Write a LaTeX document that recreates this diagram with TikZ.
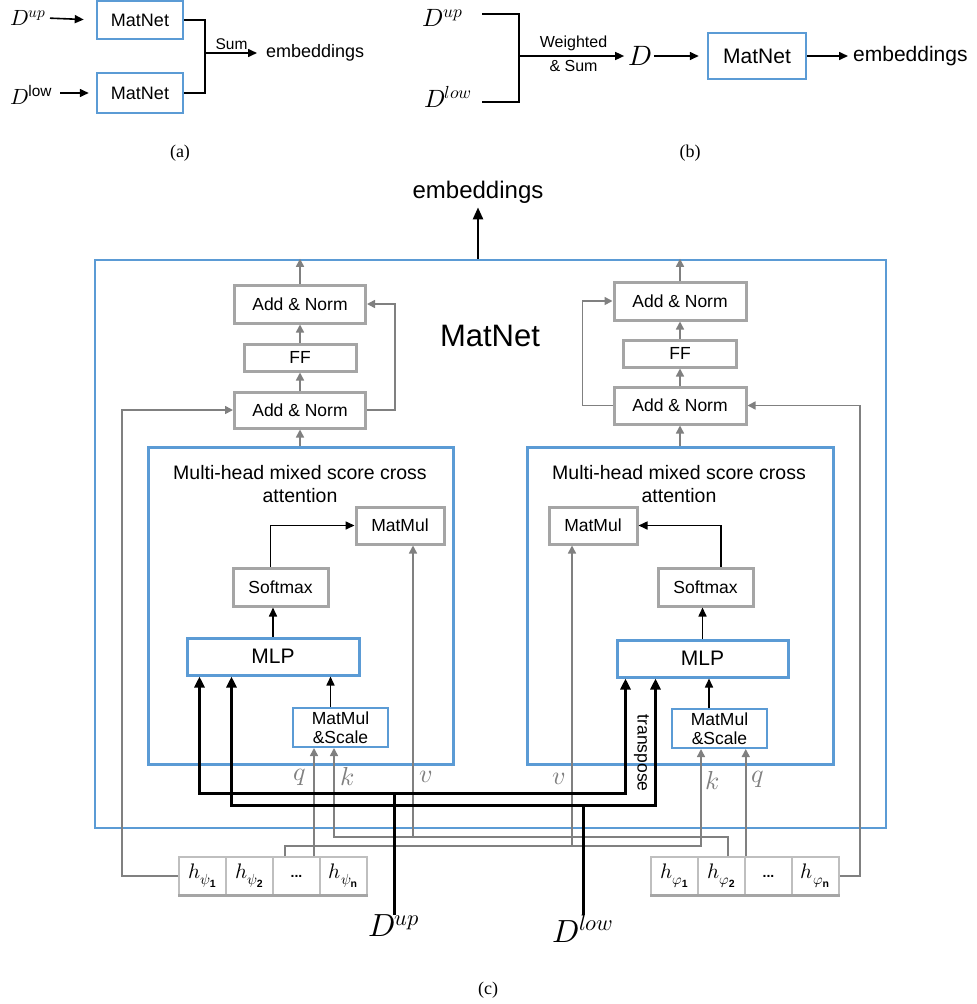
\documentclass[tikz,border=0pt]{standalone}
\usepackage{unicode-math}
\setmainfont{Liberation Sans}
\newfontfamily\capfont{Liberation Serif}
\usetikzlibrary{arrows.meta}

\definecolor{netblue}{HTML}{5B9BD5}
\definecolor{boxgray}{HTML}{A5A5A5}
\definecolor{linegray}{HTML}{808080}
\definecolor{cellgray}{HTML}{BFBFBF}

\begin{document}
\begin{tikzpicture}[x=1pt, y=-1pt,
    every node/.style={font=\fontsize{17.5}{20}\selectfont, inner sep=0pt},
    netbox/.style={draw=netblue, line width=2.5pt, fill=white},
    attbox/.style={draw=netblue, line width=3pt},
    graybox/.style={draw=boxgray, line width=3pt, fill=white},
    tokcell/.style={draw=cellgray, line width=1.5pt, minimum width=47, minimum height=38, font=\fontsize{21}{23}\selectfont},
    garrow/.style={draw=linegray, line width=1.6pt, -{Triangle[length=8pt,width=8pt]}},
    barrow/.style={line width=1.6pt, -{Triangle[length=9pt,width=8pt]}},
    dline/.style={line width=3pt},
    darrow/.style={line width=3pt, {Triangle[length=11pt,width=10pt]}-{Triangle[length=11pt,width=10pt]}},
    qkv/.style={text=linegray, font=\fontsize{26}{28}\selectfont},
    sublabel/.style={font=\capfont\fontsize{18}{20}\selectfont}
  ]
  \useasboundingbox (0,0) rectangle (977,1004);

  % (a) two MatNets, summed
  \node[netbox, minimum width=86, minimum height=38, font=\fontsize{18}{20}\selectfont] (aTop) at (140,20) {MatNet};
  \node[netbox, minimum width=86, minimum height=40, font=\fontsize{18}{20}\selectfont] (aBot) at (140,93) {MatNet};
  \node[font=\fontsize{22}{24}\selectfont] (aDup) at (28,18) {$D^{up}$};
  \node[font=\fontsize{22}{24}\selectfont] (aDlow) at (31,95) {$D^{\mathrm{low}}$};
  \coordinate (aJ) at (205,53);
  \node[anchor=west, font=\fontsize{18}{20}\selectfont] (aEmb) at (266,53) {embeddings};
  \draw[barrow, shorten <=4pt, shorten >=12pt] (aDup.east) -- (aTop.west);
  \draw[barrow, shorten <=8pt, shorten >=7pt] (aDlow.east |- aBot.west) -- (aBot.west);
  \draw[line width=1.6pt] (aTop.east) -| (aJ) |- (aBot.east);
  \draw[barrow, shorten >=9pt] (aJ) -- node[above=3pt, xshift=-4pt, font=\fontsize{15.5}{17}\selectfont]{Sum} (aEmb.west);
  \node[sublabel] (capA) at (180,153) {(a)};

  % (b) weighted sum, one MatNet
  \node[font=\fontsize{25}{27}\selectfont] (bDup) at (443,18) {$D^{up}$};
  \node[font=\fontsize{25}{27}\selectfont] (bDlow) at (448,97) {$D^{low}$};
  \coordinate (bUp) at (482,14);
  \coordinate (bLow) at (482,102);
  \coordinate (bJ) at (519,56);
  \node[font=\fontsize{28}{30}\selectfont] (bD) at (640,56) {$D$};
  \node[netbox, minimum width=98, minimum height=46, font=\fontsize{21}{24}\selectfont] (bNet) at (757,56) {MatNet};
  \node[anchor=west, font=\fontsize{21}{24}\selectfont] (bEmb) at (853,56) {embeddings};
  \draw[line width=1.8pt] (bUp) -| (bJ) |- (bLow);
  \draw[barrow, shorten >=4pt] (bJ) -- node[above=4pt, font=\fontsize{16}{18}\selectfont]{Weighted}
    node[below=4pt, font=\fontsize{16}{18}\selectfont]{\& Sum} (bD);
  \draw[barrow, shorten <=2pt, shorten >=8pt] (bD.east) -- (bNet.west);
  \draw[barrow, shorten >=5pt] (bNet.east) -- (bEmb.west);
  \node[sublabel] (capB) at (690,153) {(b)};

  % (c) inside MatNet
  \node[netbox, minimum width=791, minimum height=568, fill=none] (matnet) at (490.5,544) {};
  \node[font=\fontsize{31}{34}\selectfont] (title) at (490,336) {MatNet};
  \node[font=\fontsize{24}{26}\selectfont] (cEmb) at (478,192) {embeddings};
  \draw[line width=2.5pt, -{Triangle[length=12pt,width=10pt]}, shorten >=4pt] (cEmb.south |- matnet.north) -- (cEmb.south);

  % left encoder
  \node[graybox, minimum width=131, minimum height=38] (lAN2) at (300,304) {Add \& Norm};
  \node[graybox, minimum width=112, minimum height=27] (lFF) at (300,357.5) {FF};
  \node[graybox, minimum width=131, minimum height=36] (lAN1) at (300,410) {Add \& Norm};
  \node[attbox, minimum width=305, minimum height=317] (lAtt) at (300.5,605.5) {};
  \node[align=center, font=\fontsize{19.5}{23}\selectfont] (lAttT) at (300,484) {Multi-head mixed score cross\\attention};
  \node[graybox, minimum width=88, minimum height=37] (lMM) at (400,525.5) {MatMul};
  \node[graybox, minimum width=95, minimum height=38] (lSm) at (280.5,587) {Softmax};
  \node[attbox, minimum width=172, minimum height=37, font=\fontsize{21}{24}\selectfont] (lMLP) at (273,656.5) {MLP};
  \node[netbox, line width=2pt, minimum width=95, minimum height=39, align=center, font=\fontsize{17.5}{19}\selectfont] (lMS) at (340.5,727.5) {MatMul\\\&Scale};

  % right encoder
  \node[graybox, minimum width=132, minimum height=38] (rAN2) at (680,301) {Add \& Norm};
  \node[graybox, minimum width=113, minimum height=27] (rFF) at (680,353.5) {FF};
  \node[graybox, minimum width=132, minimum height=37] (rAN1) at (680,405.5) {Add \& Norm};
  \node[attbox, minimum width=306, minimum height=317] (rAtt) at (680,605.5) {};
  \node[align=center, font=\fontsize{19.5}{23}\selectfont] (rAttT) at (679,484) {Multi-head mixed score cross\\attention};
  \node[graybox, minimum width=88, minimum height=37] (rMM) at (593,525.5) {MatMul};
  \node[graybox, minimum width=95, minimum height=38] (rSm) at (705.5,587) {Softmax};
  \node[attbox, minimum width=171, minimum height=37, font=\fontsize{21}{24}\selectfont] (rMLP) at (702.5,658.5) {MLP};
  \node[netbox, line width=2pt, minimum width=95, minimum height=39, align=center, font=\fontsize{17.5}{19}\selectfont] (rMS) at (719.5,728.5) {MatMul\\\&Scale};

  % token rows
  \node[tokcell] (lTok1) at (202.5,876) {$h_{\psi_{\mathbf{1}}}$};
  \node[tokcell] (lTok2) at (249.5,876) {$h_{\psi_{\mathbf{2}}}$};
  \node[tokcell, font=\bfseries\fontsize{14}{16}\selectfont] (lTok3) at (296.5,876) {...};
  \node[tokcell] (lTok4) at (343.5,876) {$h_{\psi_{\mathbf{n}}}$};
  \node[tokcell] (rTok1) at (674.5,876) {$h_{\varphi_{\mathbf{1}}}$};
  \node[tokcell] (rTok2) at (721.5,876) {$h_{\varphi_{\mathbf{2}}}$};
  \node[tokcell, font=\bfseries\fontsize{14}{16}\selectfont] (rTok3) at (768.5,876) {...};
  \node[tokcell] (rTok4) at (815.5,876) {$h_{\varphi_{\mathbf{n}}}$};
  \draw[line width=3pt, draw=boxgray] (lTok1.south west) -- (lTok4.south east);
  \draw[line width=3pt, draw=boxgray] (rTok1.south west) -- (rTok4.south east);

  % bus rows
  \coordinate (busA) at (0,793);
  \coordinate (busB) at (0,805);
  \coordinate (busK) at (0,837);
  \coordinate (busV) at (0,846);

  % gray flow in the stacks
  \draw[garrow] (lAN1.south |- lAtt.north) -- (lAN1.south);
  \draw[garrow] (lAN1.north) -- (lFF.south);
  \draw[garrow] (lFF.north) -- (lAN2.south);
  \draw[garrow] (lAN2.north) -- (lAN2.north |- matnet.north);
  \draw[garrow] (lAN1.east) -- ++(28,0) |- (lAN2.east);
  \draw[garrow] (lTok1.west) -- ++(-56,0) |- (lAN1.west);
  \draw[garrow] (rAN1.south |- rAtt.north) -- (rAN1.south);
  \draw[garrow] (rAN1.north) -- (rFF.south);
  \draw[garrow] (rFF.north) -- (rAN2.south);
  \draw[garrow] (rAN2.north) -- (rAN2.north |- matnet.north);
  \draw[garrow] (rAN1.west) -- ++(-30,0) |- (rAN2.west);
  \draw[garrow] (rTok4.east) -- ++(20,0) |- (rAN1.east);

  % black flow inside attention
  \draw[barrow] (lMLP.north) -- (lMLP.north |- lSm.south);
  \draw[barrow] ([xshift=-10pt]lSm.north) |- (lMM.west);
  \draw[barrow] ([xshift=-10pt]lMS.north) -- ([xshift=-10pt]lMS.north |- lMLP.south);
  \draw[barrow] (rMLP.north) -- (rMLP.north |- rSm.south);
  \draw[barrow] ([xshift=15.5pt]rSm.north) |- (rMM.east);
  \draw[barrow] ([xshift=-10.5pt]rMS.north) -- ([xshift=-10.5pt]rMS.north |- rMLP.south);

  % q, k, v
  \draw[garrow] ([xshift=17.5pt]lTok3.north) -- ([xshift=17.5pt]lTok3.north |- lMS.south);
  \draw[garrow] ([xshift=6.5pt]rTok2.north) |- ([xshift=-6.5pt]lMS.south |- busK) -- ([xshift=-6.5pt]lMS.south);
  \draw[garrow] ([xshift=13pt]lMM.south |- busK) -- ([xshift=13pt]lMM.south);
  \draw[garrow] (rTok2.north east) -- (rTok2.north east |- rMS.south);
  \draw[garrow] ([xshift=-11.5pt]lTok3.north) |- ([xshift=-18.5pt]rMS.south |- busV) -- ([xshift=-18.5pt]rMS.south);
  \draw[garrow] ([xshift=-21pt]rMM.south |- busV) -- ([xshift=-21pt]rMM.south);
  \node[qkv] (lq) at (300,777) {$q$};
  \node[qkv] (lk) at (347,777) {$k$};
  \node[qkv] (lv) at (426,777) {$v$};
  \node[qkv] (rv) at (559,779) {$v$};
  \node[qkv] (rk) at (712,781) {$k$};
  \node[qkv] (rq) at (758,779) {$q$};

  % D inputs
  \node[font=\fontsize{32}{34}\selectfont] (cDup) at (394,926) {$D^{up}$};
  \node[font=\fontsize{32}{34}\selectfont] (cDlow) at (583,929) {$D^{low}$};
  \draw[darrow] ([xshift=14pt]lMLP.south west) |- ([xshift=10pt]rMLP.south west |- busA) -- ([xshift=10pt]rMLP.south west);
  \draw[darrow] ([xshift=46pt]lMLP.south west) |- ([xshift=40pt]rMLP.south west |- busB)
    -- node[pos=0.41, rotate=-90, anchor=north, inner sep=5pt]{transpose} ([xshift=40pt]rMLP.south west);
  \draw[dline] (cDup.north) -- (cDup.north |- busA);
  \draw[dline] (cDlow.north) -- (cDlow.north |- busB);
  \node[sublabel] (capC) at (488,990) {(c)};
\end{tikzpicture}
\end{document}
